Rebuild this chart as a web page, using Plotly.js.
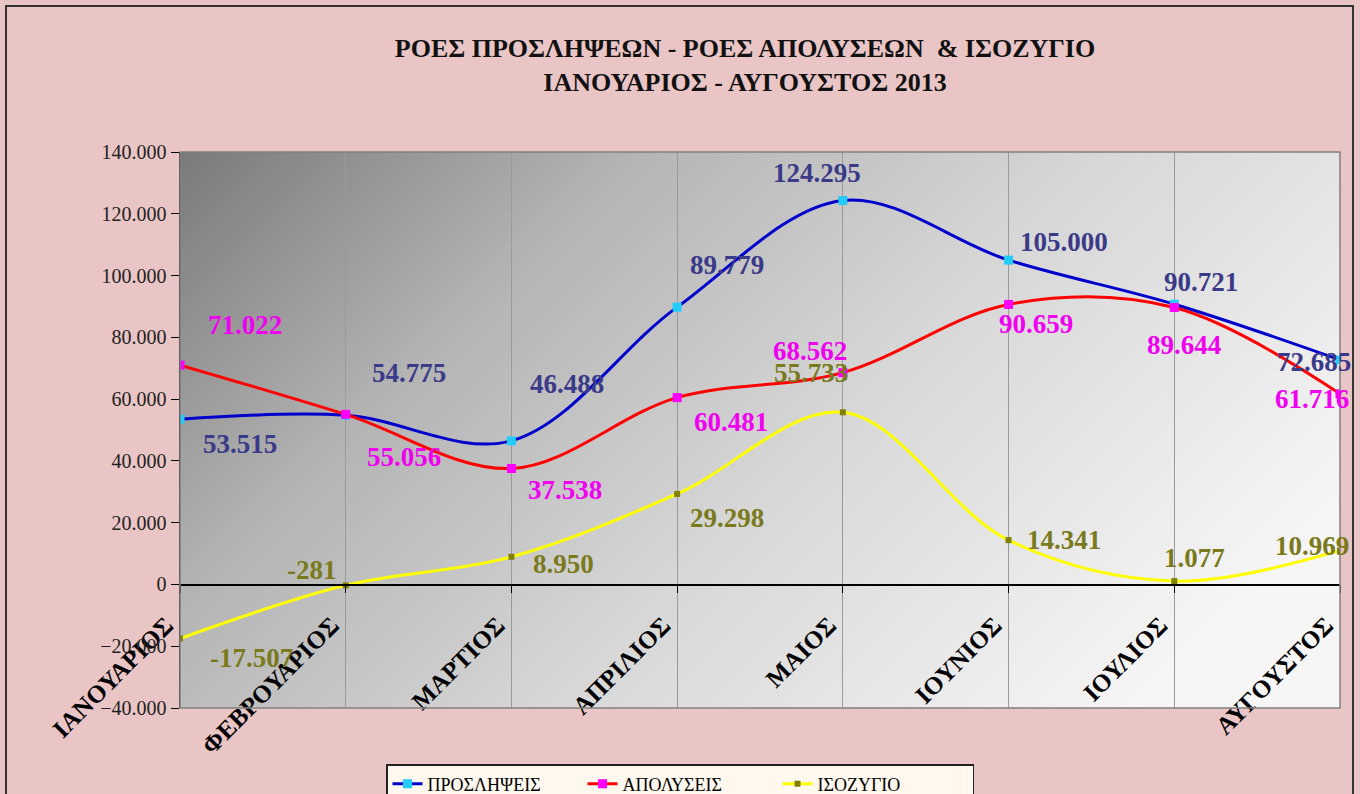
<!DOCTYPE html>
<html>
<head>
<meta charset="utf-8">
<script src="https://cdn.plot.ly/plotly-3.0.1.min.js"></script>
<style>
html,body{margin:0;padding:0;background:#EAC5C5;}
#chart{width:1360px;height:794px;}
</style>
</head>
<body>
<div id="chart"></div>
<script>
// ---- data ----
const months = ["ΙΑΝΟΥΑΡΙΟΣ","ΦΕΒΡΟΥΑΡΙΟΣ","ΜΑΡΤΙΟΣ","ΑΠΡΙΛΙΟΣ","ΜΑΙΟΣ","ΙΟΥΝΙΟΣ","ΙΟΥΛΙΟΣ","ΑΥΓΟΥΣΤΟΣ"];
const hires    = [53515, 54775, 46488, 89779, 124295, 105000, 90721, 72685];
const layoffs  = [71022, 55056, 37538, 60481, 68562, 90659, 89644, 61716];
const balance  = [-17507, -281, 8950, 29298, 55733, 14341, 1077, 10969];
const seriesNames = ["ΠΡΟΣΛΗΨΕΙΣ", "ΑΠΟΛΥΣΕΙΣ", "ΙΣΟΖΥΓΙΟ"];
const yTickVals = [-40000,-20000,0,20000,40000,60000,80000,100000,120000,140000];

// ---- label offsets (px) : style only ----
const hiresOff   = [[60,-25],[63,42],[56,57],[50,42],[-26,28],[55,18],[27,22],[-26,-2]];
const layoffsOff = [[65,40],[58,-43],[54,-22],[54,-24],[-33,22],[27,-20],[10,-37],[-28,-5]];
const balanceOff = [[71,-19],[-34,15],[52,-7],[50,-24],[-32,39],[55,0],[20,23],[-28,5]];

function fmt(v){
  const s = Math.abs(v).toString().replace(/\B(?=(\d{3})+(?!\d))/g, ".");
  return (v<0?"-":"") + s;
}

// gradient background image for the plot area
const cv = document.createElement("canvas");
cv.width = 1160; cv.height = 556;
const ctx = cv.getContext("2d");
const g = ctx.createLinearGradient(0,0,760,760);
g.addColorStop(0, "#7a7a7a");
g.addColorStop(0.3, "#b4b4b4");
g.addColorStop(0.6, "#d6d6d6");
g.addColorStop(1, "#f6f6f6");
ctx.fillStyle = g;
ctx.fillRect(0,0,1160,556);
const bgURL = cv.toDataURL();

const traces = [
  {x: months, y: hires, name: seriesNames[0], type: "scatter", mode: "lines+markers",
   line: {color: "#0000CC", width: 3, shape: "spline", smoothing: 1},
   marker: {symbol: "square", size: 9, color: "#22CCFF"}},
  {x: months, y: layoffs, name: seriesNames[1], type: "scatter", mode: "lines+markers",
   line: {color: "#FF0000", width: 3, shape: "spline", smoothing: 1},
   marker: {symbol: "square", size: 9, color: "#FF00FF"}},
  {x: months, y: balance, name: seriesNames[2], type: "scatter", mode: "lines+markers",
   line: {color: "#FFFF00", width: 3, shape: "spline", smoothing: 1},
   marker: {symbol: "square", size: 6, color: "#808000"}}
];

const annotations = [];
function addLabels(vals, offs, color){
  vals.forEach((v,i)=>{
    annotations.push({x: months[i], y: v, xref: "x", yref: "y", text: fmt(v), showarrow: false,
      xshift: offs[i][0], yshift: offs[i][1],
      font: {family: "Liberation Serif", size: 27, color: color, weight: "bold"}});
  });
}
addLabels(hires, hiresOff, "#3A3A88");
addLabels(layoffs, layoffsOff, "#F000F0");
addLabels(balance, balanceOff, "#7A7A1C");

const layout = {
  width: 1360, height: 794,
  margin: {l: 180, r: 20, t: 152, b: 86},
  paper_bgcolor: "#EAC5C5",
  plot_bgcolor: "rgba(0,0,0,0)",
  separators: ",.",
  title: {text: "ΡΟΕΣ ΠΡΟΣΛΗΨΕΩΝ - ΡΟΕΣ ΑΠΟΛΥΣΕΩΝ  & ΙΣΟΖΥΓΙΟ<br>ΙΑΝΟΥΑΡΙΟΣ - ΑΥΓΟΥΣΤΟΣ 2013",
          x: 745/1360, xanchor: "center", y: 1-57/794, yanchor: "top",
          font: {family: "Liberation Serif", size: 26, color: "#111", weight: "bold"}},
  xaxis: {type: "category", range: [0, 7], anchor: "free", position: 40000/180000,
          showgrid: true, gridcolor: "#9a9a9a", gridwidth: 1,
          showline: true, linecolor: "#000", linewidth: 1.5,
          ticks: "outside", ticklen: 7, tickcolor: "#000", tickangle: -45,
          ticklabelstandoff: 8, ticklabelshift: -14,
          tickfont: {family: "Liberation Serif", size: 25, color: "#000", weight: "bold"},
          zeroline: false},
  yaxis: {range: [-40000, 140000], tickvals: yTickVals, tickformat: ",d",
          showgrid: false, zeroline: false,
          showline: true, linecolor: "#000", linewidth: 1.5,
          ticks: "outside", ticklen: 8, tickcolor: "#000",
          tickfont: {family: "Liberation Serif", size: 20, color: "#222"}},
  showlegend: true,
  legend: {orientation: "h", xref: "container", yref: "container", x: 680/1360, xanchor: "center",
           y: 1-764/794, yanchor: "top", bgcolor: "#FFF8EE", bordercolor: "#222", borderwidth: 1.5,
           font: {family: "Liberation Serif", size: 18, color: "#000"}, entrywidth: 150},
  images: [{source: bgURL, xref: "paper", yref: "paper", x: 0, y: 1, sizex: 1, sizey: 1,
            sizing: "stretch", xanchor: "left", yanchor: "top", layer: "below"}],
  shapes: [
    {type: "rect", xref: "paper", yref: "paper", x0: 0, x1: 1, y0: 0, y1: 1,
     line: {color: "#808080", width: 1.5}},
    {type: "rect", xref: "paper", yref: "paper", x0: (6-180)/1160, x1: (1353-180)/1160,
     y0: (708-820)/556, y1: (708-6)/556, line: {color: "#333", width: 2}}
  ],
  annotations: annotations
};

Plotly.newPlot("chart", traces, layout, {displayModeBar: false, staticPlot: true});
</script>
</body>
</html>
